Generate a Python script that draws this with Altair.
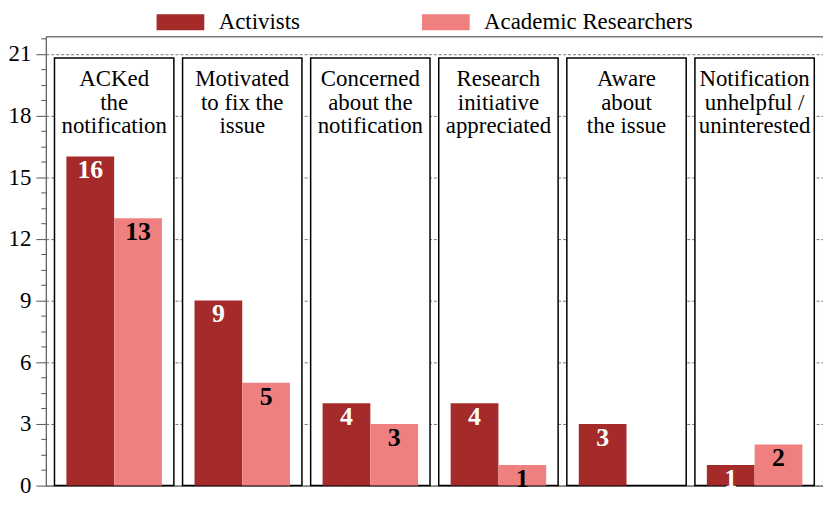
import altair as alt
import pandas as pd

categories = [
    "ACKed\nthe\nnotification",
    "Motivated\nto fix the\nissue",
    "Concerned\nabout the\nnotification",
    "Research\ninitiative\nappreciated",
    "Aware\nabout\nthe issue",
    "Notification\nunhelpful /\nuninterested",
]
series = ["Activists", "Academic Researchers"]
activists = [16, 9, 4, 4, 3, 1]
academic = [13, 5, 3, 1, 0, 2]
colors = ["#a52a2a", "#f08080"]
major_ticks = [0, 3, 6, 9, 12, 15, 18, 21]
minor_ticks = [i * 0.75 for i in range(30) if i % 4 != 0]

rows = []
for c, a, b in zip(categories, activists, academic):
    rows.append({"category": c, "series": series[0], "value": a})
    rows.append({"category": c, "series": series[1], "value": b})
df = pd.DataFrame(rows)
panel_df = pd.DataFrame({"category": categories})

FONT = "Liberation Serif"
yscale = alt.Scale(domain=[0, 21.85], nice=False, zero=True)
xscale = alt.Scale(domain=categories, paddingInner=0.068, paddingOuter=0.068)
off_scale = alt.Scale(domain=series, paddingInner=0, paddingOuter=0.25)

main_axis = alt.Axis(
    values=major_ticks, title=None, orient="left", tickSize=10, labelPadding=5,
    labelFont=FONT, labelFontSize=23, labelColor="black", tickColor="#555",
    domain=False, grid=True, gridDash=[3, 2], gridColor="#777", gridWidth=1,
)
minor_axis = alt.Axis(
    values=minor_ticks, title=None, orient="left", tickSize=5, labels=False,
    tickColor="#555", domain=False, grid=False,
)

x_enc = alt.X("category:N", scale=xscale, axis=None, sort=categories)

panels = alt.Chart(panel_df).mark_bar(
    fill="white", stroke="black", strokeWidth=1.5
).encode(
    x=x_enc,
    y=alt.YDatum(0, type="quantitative", scale=yscale, axis=main_axis),
    y2=alt.datum(20.8),
)

panel_text = alt.Chart(panel_df).mark_text(
    baseline="top", dy=10, font=FONT, fontSize=23, lineHeight=24,
    lineBreak="\n", color="black",
).encode(
    x=x_enc,
    y=alt.YDatum(20.8, type="quantitative", scale=yscale, axis=None),
    text="category:N",
)

bars = alt.Chart(df).mark_bar().encode(
    x=x_enc,
    xOffset=alt.XOffset("series:N", scale=off_scale, sort=series),
    y=alt.Y("value:Q", scale=yscale, axis=None),
    color=alt.Color(
        "series:N", sort=series,
        scale=alt.Scale(domain=series, range=colors),
        legend=alt.Legend(
            title=None, orient="none", legendX=124, legendY=-26,
            direction="horizontal", symbolType="M-2.667,-0.9H2.667V0.9H-2.667Z",
            symbolSize=324, symbolStrokeWidth=0, symbolOpacity=1,
            labelFont=FONT, labelFontSize=23, labelColor="black",
            labelOffset=27, columnPadding=122, labelLimit=400, padding=0,
        ),
    ),
)

labels = alt.Chart(df).transform_filter("datum.value > 0").mark_text(
    baseline="top", dy=1, font=FONT, fontSize=26, fontWeight="bold",
).encode(
    x=x_enc,
    xOffset=alt.XOffset("series:N", scale=off_scale, sort=series),
    y=alt.Y("value:Q", scale=yscale, axis=minor_axis),
    text="value:Q",
    color=alt.condition(alt.datum.series == "Activists", alt.value("white"), alt.value("black")),
)

chart = alt.layer(panels, panel_text, bars, labels).resolve_axis(y="independent").properties(
    width=782, height=452,
    padding={"left": 0, "top": 1, "right": 0, "bottom": 3},
).configure_view(stroke="#333", strokeWidth=1)

chart.save("out.html", embed_options={"renderer": "svg", "actions": False})
